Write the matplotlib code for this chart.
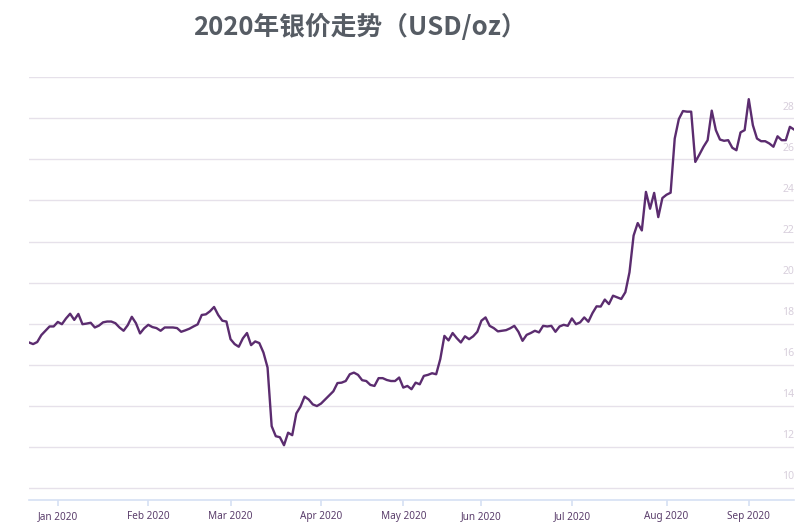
import matplotlib
matplotlib.use("Agg")
import matplotlib.pyplot as plt
import matplotlib.transforms as mtransforms
import pandas as pd

# ---- data (LBMA-style trading days, USD/oz) ----
uk_holidays = ["2019-12-25", "2019-12-26", "2020-01-01", "2020-04-10",
               "2020-04-13", "2020-05-08", "2020-05-25", "2020-08-31"]
start_date = "2019-12-19"
end_date = "2020-09-16"

dec_2019 = [17.08, 17.00, 17.10, 17.44, 17.65, 17.86, 17.86]
jan_2020 = [18.08, 17.97, 18.25, 18.48, 18.18, 18.47, 17.97, 18.00, 18.04, 17.81, 17.90,
            18.06, 18.10, 18.10, 18.02, 17.81, 17.65, 17.92, 18.33, 18.02, 17.52, 17.77]
feb_2020 = [17.94, 17.83, 17.78, 17.65, 17.81, 17.81, 17.81, 17.78, 17.60, 17.67,
            17.75, 17.86, 17.96, 18.42, 18.45, 18.60, 18.81, 18.42, 18.14, 18.10]
mar_2020 = [17.24, 17.00, 16.87, 17.28, 17.54, 16.95, 17.13, 17.05, 16.59, 15.86, 13.00,
            12.51, 12.46, 12.07, 12.68, 12.56, 13.62, 13.95, 14.44, 14.30, 14.06, 13.98]
apr_2020 = [14.10, 14.30, 14.50, 14.70, 15.10, 15.12, 15.20, 15.53, 15.61, 15.50,
            15.24, 15.20, 15.01, 14.96, 15.34, 15.34, 15.25, 15.20, 15.20, 15.37]
may_2020 = [14.88, 14.96, 14.80, 15.12, 15.04, 15.45, 15.50, 15.58, 15.53, 16.27,
            17.40, 17.18, 17.54, 17.29, 17.08, 17.38, 17.24, 17.38, 17.60]
jun_2020 = [18.14, 18.30, 17.89, 17.78, 17.62, 17.65, 17.68, 17.77, 17.89, 17.60, 17.16,
            17.45, 17.54, 17.65, 17.57, 17.89, 17.86, 17.89, 17.60, 17.86, 17.94, 17.89]
jul_2020 = [18.25, 17.97, 18.06, 18.30, 18.09, 18.51, 18.84, 18.83, 19.17, 18.95, 19.36, 19.28,
            19.20, 19.53, 20.50, 22.29, 22.90, 22.54, 24.42, 23.60, 24.37, 23.19, 24.12]
aug_2020 = [24.28, 24.38, 27.02, 27.97, 28.36, 28.33, 28.33, 25.88, 26.24, 26.62,
            26.94, 28.38, 27.43, 26.97, 26.91, 26.94, 26.57, 26.45, 27.32, 27.43]
sep_2020 = [28.94, 27.67, 27.02, 26.89, 26.89, 26.78, 26.62, 27.13, 26.94, 26.94, 27.59, 27.46]

y_ticks = [10, 12, 14, 16, 18, 20, 22, 24, 26, 28]
grid_values = [10, 12, 14, 16, 18, 20, 22, 24, 26, 28, 30]
month_labels = ["Jan 2020", "Feb 2020", "Mar 2020", "Apr 2020", "May 2020",
                "Jun 2020", "Jul 2020", "Aug 2020", "Sep 2020"]
title = "2020年银价走势（USD/oz）"

values = (dec_2019 + jan_2020 + feb_2020 + mar_2020 + apr_2020 + may_2020
          + jun_2020 + jul_2020 + aug_2020 + sep_2020)
dates = pd.bdate_range(start_date, end_date, freq="C", holidays=uk_holidays)
assert len(dates) == len(values)

# first trading day of each month -> tick positions (ordinal axis)
idx = list(range(len(dates)))
months = pd.Series(dates.to_period("M"))
first_idx = [i for i in idx if i == 0 or months[i] != months[i - 1]][1:]

plt.rcParams['font.family'] = ['Noto Sans', 'DejaVu Sans']

fig = plt.figure(figsize=(8, 5.24), dpi=100)
ax = fig.add_axes([29 / 800, 1 - 500 / 524, (794 - 29) / 800, (500 - 77) / 524])

for g in grid_values:
    ax.axhline(g, color="#e6e1ea", lw=1.0, zorder=1)

ax.plot(idx, values, color="#5b2c6f", lw=1.7, zorder=3, solid_joinstyle="round")

ax.set_xlim(0, len(values) - 1)
ax.set_ylim(9.4, 30.02)

for s in ["top", "left", "right"]:
    ax.spines[s].set_visible(False)
ax.spines["bottom"].set_color("#d6e0f3")
ax.spines["bottom"].set_linewidth(1.2)

ax.set_xticks(first_idx)
ax.set_xticklabels(month_labels, fontsize=7.2, color="#5a3d6b")
ax.tick_params(axis="x", length=4.5, width=1.2, color="#d6e0f3", pad=3.5)
ax.set_yticks([])

for v in y_ticks:
    t = mtransforms.offset_copy(mtransforms.blended_transform_factory(ax.transAxes, ax.transData),
                                fig=fig, x=0, y=8, units="points")
    ax.text(1.0, v, str(v), transform=t, ha="right", va="center",
            fontsize=7.5, color="#d8cfdc")

fig.text(193 / 800, 1 - 27 / 524, title, ha="left", va="center", fontsize=18.5,
         color="#565c64", fontweight="bold",
         family=["Noto Sans CJK SC", "DejaVu Sans"])

fig.savefig("out.png", dpi=100, facecolor="white")
